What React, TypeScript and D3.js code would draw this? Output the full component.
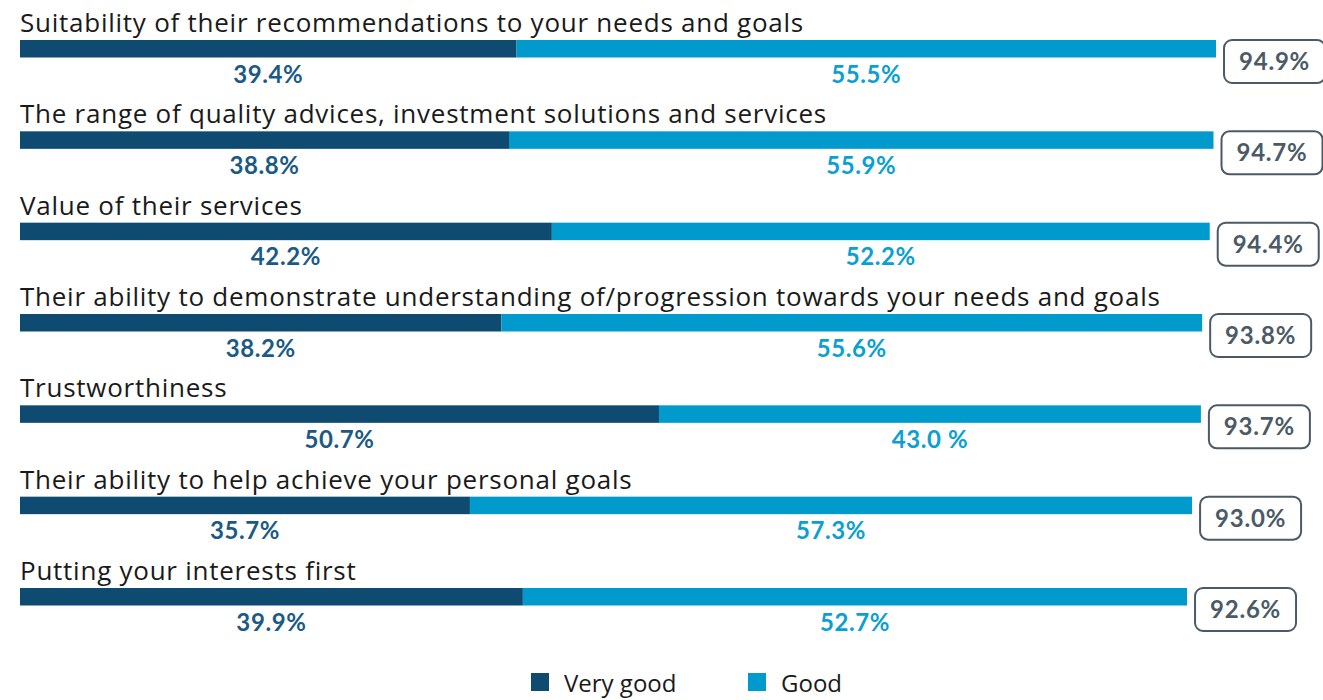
import React from "react";
import * as d3 from "d3";

const categories = [
  "Suitability of their recommendations to your needs and goals",
  "The range of quality advices, investment solutions and services",
  "Value of their services",
  "Their ability to demonstrate understanding of/progression towards your needs and goals",
  "Trustworthiness",
  "Their ability to help achieve your personal goals",
  "Putting your interests first",
];
const veryGood = [39.4, 38.8, 42.2, 38.2, 50.7, 35.7, 39.9];
const good = [55.5, 55.9, 52.2, 55.6, 43.0, 57.3, 52.7];
const totals = [94.9, 94.7, 94.4, 93.8, 93.7, 93.0, 92.6];
const veryGoodLabels = ["39.4%", "38.8%", "42.2%", "38.2%", "50.7%", "35.7%", "39.9%"];
const goodLabels = ["55.5%", "55.9%", "52.2%", "55.6%", "43.0 %", "57.3%", "52.7%"];
const totalLabels = ["94.9%", "94.7%", "94.4%", "93.8%", "93.7%", "93.0%", "92.6%"];
const seriesNames = ["Very good", "Good"];

const W = 1323;
const H = 700;
const DARK = "#0f4a70";
const LIGHT = "#009bcc";
const DARK_TXT = "#1b5a85";
const LIGHT_TXT = "#0aa0d2";
const BOX = "#4b5a66";

export default function App() {
  const x = d3.scaleLinear().domain([0, 100]).range([20, 20 + 1260.3]);
  const y = d3.scalePoint<string>().domain(categories).range([40, 588]);
  const barH = 17.5;
  const color = d3.scaleOrdinal<string, string>().domain(seriesNames).range([DARK, LIGHT]);

  return (
    <svg
      width={W}
      height={H}
      style={{ position: "absolute", left: 0, top: 0, background: "#fff" }}
      fontFamily="Lato, sans-serif"
    >
      {categories.map((c, i) => {
        const top = y(c)!;
        const x0 = x(0);
        const x1 = x(veryGood[i]);
        const x2 = x(veryGood[i] + good[i]);
        const xt = x(totals[i]);
        const boxX = xt + 8;
        const boxW = 101;
        const boxH = 43;
        return (
          <g key={c}>
            <text
              x={20}
              y={top - 8}
              fontSize={26}
              letterSpacing={0.75}
              fill="#1a1a1a"
              fontFamily="'Open Sans', sans-serif"
            >
              {c}
            </text>
            <rect x={x0} y={top} width={x1 - x0} height={barH} fill={color(seriesNames[0])} />
            <rect x={x1} y={top} width={x2 - x1} height={barH} fill={color(seriesNames[1])} />
            <text
              x={(x0 + x1) / 2}
              y={top + barH + 25}
              textAnchor="middle"
              fontSize={24}
              letterSpacing={0.6}
              fontWeight="bold"
              fill={DARK_TXT}
            >
              {veryGoodLabels[i]}
            </text>
            <text
              x={(x1 + x2) / 2}
              y={top + barH + 25}
              textAnchor="middle"
              fontSize={24}
              letterSpacing={0.6}
              fontWeight="bold"
              fill={LIGHT_TXT}
            >
              {goodLabels[i]}
            </text>
            <rect
              x={boxX}
              y={top}
              width={boxW}
              height={boxH}
              rx={8}
              ry={8}
              fill="#fff"
              stroke={BOX}
              strokeWidth={2}
            />
            <text
              x={boxX + boxW / 2}
              y={top + boxH / 2 + 8.5}
              textAnchor="middle"
              fontSize={24}
              letterSpacing={0.8}
              fontWeight="bold"
              fill={BOX}
            >
              {totalLabels[i]}
            </text>
          </g>
        );
      })}
      {seriesNames.map((s, i) => {
        const lx = 531 + i * 217;
        return (
          <g key={s}>
            <rect x={lx} y={673} width={18} height={18} fill={color(s)} />
            <text x={lx + 33} y={692} fontSize={24} fill="#1a1a1a" fontFamily="'Open Sans', sans-serif">
              {s}
            </text>
          </g>
        );
      })}
    </svg>
  );
}
